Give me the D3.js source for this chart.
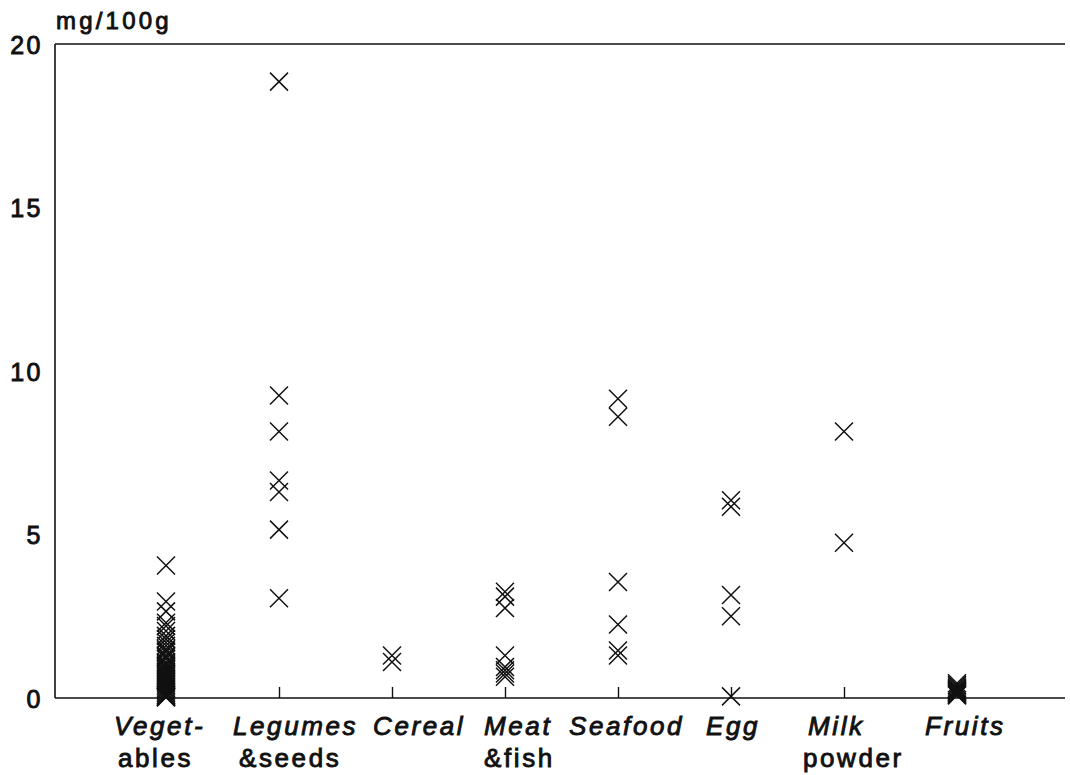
<!DOCTYPE html>
<html>
<head>
<meta charset="utf-8">
<script src="https://cdn.jsdelivr.net/npm/d3@7/dist/d3.min.js"></script>
<style>
  html, body { margin: 0; padding: 0; background: #fff; }
  svg { display: block; }
  .lbl { font-family: "Liberation Sans", Arial, sans-serif; fill: #111; stroke: #111; stroke-width: 0.9px; }
</style>
</head>
<body>
<svg id="chart" width="1070" height="775"></svg>
<script>
// Food groups on the horizontal axis
const categories = ["Vegetables", "Legumes & seeds", "Cereal", "Meat & fish", "Seafood", "Egg", "Milk powder", "Fruits"];

// Content per sample, mg/100g
const vegetables = [4.05, 2.95, 2.65, 2.3, 2.2, 2.05, 1.9, 1.8, 1.7, 1.6, 1.5, 1.45, 1.4, 1.3, 1.25, 1.2,
  1.1, 1.05, 1.0, 0.95, 0.9, 0.85, 0.8, 0.75, 0.7, 0.65, 0.6, 0.55, 0.5, 0.45, 0.4, 0.35, 0.3, 0.25,
  0.2, 0.15, 0.1, 0.08, 0.05, 0.03, 0.02];
const legumesSeeds = [18.85, 9.25, 8.15, 6.65, 6.3, 5.15, 3.05];
const cereal = [1.3, 1.1];
const meatFish = [3.25, 3.1, 2.75, 1.3, 0.95, 0.85, 0.75, 0.65];
const seafood = [9.15, 8.6, 3.55, 2.25, 1.45, 1.3];
const egg = [6.05, 5.85, 3.15, 2.5, 0.05];
const milkPowder = [8.15, 4.75];
const fruits = [0.45, 0.4, 0.35, 0.3, 0.27, 0.25, 0.22, 0.2, 0.18, 0.15, 0.12, 0.1, 0.08];

const seriesValues = [vegetables, legumesSeeds, cereal, meatFish, seafood, egg, milkPowder, fruits];

// Axis labels
const yTicks = [0, 5, 10, 15, 20];
const yUnit = "mg/100g";
const labelLine1 = ["Veget-", "Legumes", "Cereal", "Meat", "Seafood", "Egg", "Milk", "Fruits"];
const labelLine2 = ["ables", "&seeds", "", "&fish", "", "", "powder", ""];

// ---- layout ----
const plotLeft = 55, plotRight = 1065, plotTop = 44, plotBottom = 698;
// horizontal start of each label line, relative to its category position
const line1Shift = [-52, -46, -19, -21, -49, -25, -36, -32];
const line2Shift = [-48, -40, 0, -21, 0, 0, -41, 0];

const svg = d3.select("#chart");

const x = d3.scalePoint().domain(categories).range([166, 957]);
const y = d3.scaleLinear().domain([0, 20]).range([plotBottom, plotTop]);

// frame: left and top edges, plus the baseline
const frame = svg.append("g").attr("stroke", "#111").attr("stroke-width", 1.6).attr("fill", "none");
frame.append("line").attr("x1", plotLeft).attr("x2", plotLeft).attr("y1", y(20)).attr("y2", y(0));
frame.append("line").attr("x1", plotLeft).attr("x2", plotRight).attr("y1", y(20)).attr("y2", y(20));
frame.append("line").attr("x1", plotLeft).attr("x2", plotRight).attr("y1", y(0)).attr("y2", y(0));

// inward category ticks on the baseline
const xAxis = svg.append("g")
  .attr("transform", `translate(0,${y(0)})`)
  .call(d3.axisBottom(x).tickSize(-11).tickFormat(""));
xAxis.select(".domain").remove();
xAxis.selectAll(".tick line").attr("stroke", "#111").attr("stroke-width", 1.4);

// y tick labels, no tick marks
const yAxis = svg.append("g")
  .attr("transform", `translate(${plotLeft - 12},0)`)
  .call(d3.axisLeft(y).tickValues(yTicks).tickSize(0).tickPadding(0));
yAxis.select(".domain").remove();
yAxis.selectAll(".tick text")
  .attr("class", "lbl")
  .attr("font-size", 25)
  .attr("letter-spacing", 2.5)
  .attr("dy", "0.36em");

svg.append("text")
  .attr("class", "lbl")
  .attr("x", plotLeft + 1)
  .attr("y", 29)
  .attr("font-size", 24)
  .attr("letter-spacing", 3.2)
  .text(yUnit);

// category labels: italic first line, upright second line
const labels = svg.append("g");
categories.forEach((c, i) => {
  labels.append("text")
    .attr("class", "lbl")
    .attr("x", x(c) + line1Shift[i])
    .attr("y", 735)
    .attr("font-size", 26)
    .attr("font-style", "italic")
    .attr("letter-spacing", 2.6)
    .text(labelLine1[i]);
  if (labelLine2[i]) {
    labels.append("text")
      .attr("class", "lbl")
      .attr("x", x(c) + line2Shift[i])
      .attr("y", 767)
      .attr("font-size", 26)
      .attr("letter-spacing", 2.6)
      .text(labelLine2[i]);
  }
});

// X markers
const h = 9;
const points = [];
seriesValues.forEach((vals, i) => vals.forEach(v => points.push({ c: categories[i], v })));
svg.append("g")
  .selectAll("path")
  .data(points)
  .join("path")
  .attr("transform", d => `translate(${x(d.c)},${y(d.v)})`)
  .attr("d", `M${-h},${-h}L${h},${h}M${-h},${h}L${h},${-h}`)
  .attr("stroke", "#111")
  .attr("stroke-width", 1.5)
  .attr("fill", "none");
</script>
</body>
</html>
